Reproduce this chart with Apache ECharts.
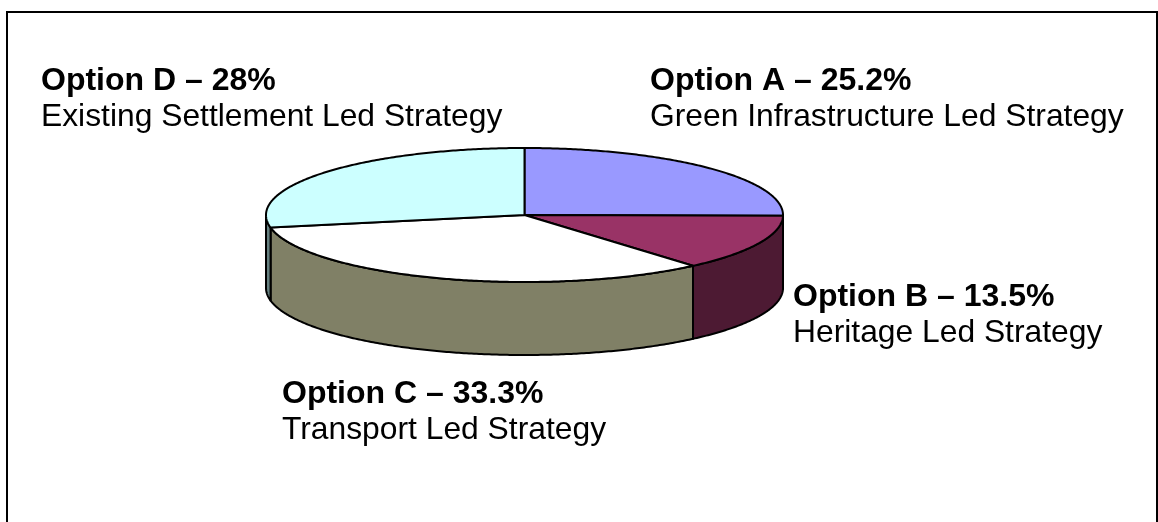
<!DOCTYPE html>
<html>
<head>
<meta charset="utf-8">
<style>
  html, body { margin: 0; padding: 0; background: #fff; }
  #chart { width: 1158px; height: 522px; }
</style>
<script src="https://cdn.jsdelivr.net/npm/echarts@6/dist/echarts.min.js"></script>
</head>
<body>
<div id="chart"></div>
<script>
const options = ['Option A', 'Option B', 'Option C', 'Option D'];
const strategies = [
  'Green Infrastructure Led Strategy',
  'Heritage Led Strategy',
  'Transport Led Strategy',
  'Existing Settlement Led Strategy'
];
const shares = [25.2, 13.5, 33.3, 28];
const topColors = ['#9999ff', '#993366', '#ffffff', '#ccffff'];
const sideColors = ['#4d4d80', '#4d1a33', '#808066', '#668080'];
// where each label block sits, left edge and middle of the first line
const labelSpots = [[650, 81], [793, 297], [282, 394], [41, 81]];

// pie drawn as a tilted disc
const cx = 524.5, cy = 215, rx = 258.5, ry = 67, depth = 73;

const chart = echarts.init(document.getElementById('chart'));

const total = shares.reduce((a, b) => a + b, 0);
const starts = [];
shares.reduce((sum, v, i) => { starts[i] = sum; return sum + v; }, 0);

function toAngle(share) {
  return share / total * Math.PI * 2;
}
function rim(a, drop) {
  return [cx + rx * Math.sin(a), cy - ry * Math.cos(a) + drop];
}
function arc(from, to, drop) {
  const pts = [];
  const n = Math.max(1, Math.ceil((to - from) / 0.01));
  for (let i = 0; i <= n; i++) {
    pts.push(rim(from + (to - from) * i / n, drop));
  }
  return pts;
}

function renderSide(params, api) {
  const i = params.dataIndex;
  // only the front half of the wall can be seen
  const from = Math.max(toAngle(starts[i]), Math.PI / 2);
  const to = Math.min(toAngle(starts[i] + api.value(0)), Math.PI * 1.5);
  if (to <= from) return null;
  return {
    type: 'polygon',
    shape: { points: arc(from, to, 0).concat(arc(from, to, depth).reverse()) },
    style: { fill: sideColors[i], stroke: '#000', lineWidth: 2, lineJoin: 'round' }
  };
}

function renderTop(params, api) {
  const i = params.dataIndex;
  const from = toAngle(starts[i]);
  const to = toAngle(starts[i] + api.value(0));
  return {
    type: 'polygon',
    shape: { points: [[cx, cy]].concat(arc(from, to, 0)) },
    style: { fill: topColors[i], stroke: '#000', lineWidth: 2, lineJoin: 'round' }
  };
}

const labels = [];
options.forEach((name, i) => {
  labels.push({
    type: 'text', left: labelSpots[i][0], top: labelSpots[i][1] - 16,
    style: { text: name + ' – ' + shares[i] + '%', font: 'bold 32px "Liberation Sans", Arial, sans-serif', fill: '#000' }
  });
  labels.push({
    type: 'text', left: labelSpots[i][0], top: labelSpots[i][1] + 20,
    style: { text: strategies[i], font: '31.8px "Liberation Sans", Arial, sans-serif', fill: '#000' }
  });
});

const option = {
  animation: false,
  backgroundColor: '#fff',
  graphic: [{
    type: 'rect', z: -1,
    shape: { x: 7, y: 12, width: 1150, height: 530 },
    style: { fill: '#fff', stroke: '#000', lineWidth: 2 }
  }].concat(labels),
  series: [
    { type: 'custom', coordinateSystem: 'none', renderItem: renderSide, data: shares, silent: true, z: 2 },
    { type: 'custom', coordinateSystem: 'none', renderItem: renderTop, data: shares, silent: true, z: 3 }
  ]
};
chart.setOption(option);
window.addEventListener('resize', function () {
  chart.resize();
});
</script>
</body>
</html>
